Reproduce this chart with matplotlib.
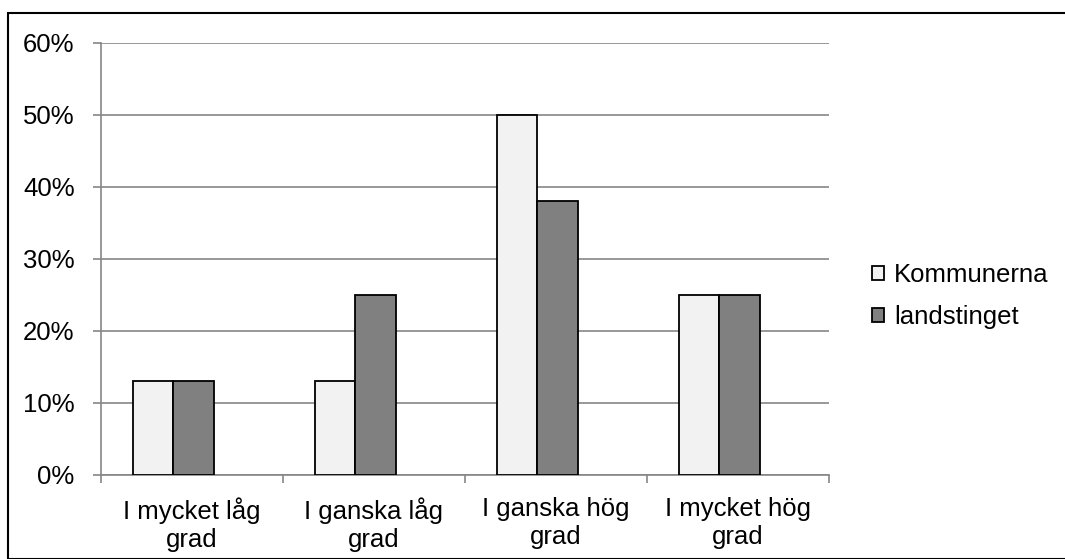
import matplotlib.pyplot as plt
import numpy as np
from matplotlib.patches import Rectangle

plt.rcParams['font.family'] = ['Liberation Sans', 'DejaVu Sans']

categories = ['I mycket låg\ngrad', 'I ganska låg\ngrad', 'I ganska hög\ngrad', 'I mycket hög\ngrad']
kommunerna = [13, 13, 50, 25]
landstinget = [13, 25, 38, 25]
yticks = [0, 10, 20, 30, 40, 50, 60]

fs = 18.5

fig = plt.figure(figsize=(10.65, 5.59), dpi=100)
ax = fig.add_axes([101 / 1065, 1 - 475 / 559, 728 / 1065, 432 / 559])

x = np.arange(len(categories))
w = 0.2225
shift = -0.104  # bars sit slightly left of the category centre
ax.bar(x + shift - w / 2, kommunerna, w, color='#f2f2f2', edgecolor='black', linewidth=1.3,
       label='Kommunerna', zorder=3)
ax.bar(x + shift + w / 2, landstinget, w, color='#808080', edgecolor='black', linewidth=1.3,
       label='landstinget', zorder=3)

ax.set_xlim(-0.5, 3.5)
ax.set_ylim(0, 60)
ax.set_yticks(yticks)
ax.set_yticklabels([f'{t}%' for t in yticks], fontsize=fs)
ax.yaxis.grid(True, color='#868686', linewidth=1.2, zorder=0)

# category labels centred, tick marks at the boundaries
ax.set_xticks(x)
ax.set_xticklabels(categories, fontsize=fs, linespacing=1.2)
ax.tick_params(axis='x', length=0, pad=16)
ax.set_xticks(np.arange(-0.5, 4, 1), minor=True)
ax.tick_params(axis='x', which='minor', length=6, color='#868686', width=1.2, direction='out')
ax.tick_params(axis='y', length=6, color='#868686', width=1.2, pad=13)

for s in ['top', 'right']:
    ax.spines[s].set_visible(False)
for s in ['left', 'bottom']:
    ax.spines[s].set_color('#868686')
    ax.spines[s].set_linewidth(1.2)

fig.legend(loc='center left', bbox_to_anchor=(872 / 1065, 1 - 296 / 559), frameon=False,
           fontsize=fs, handlelength=0.45, handleheight=0.45, handletextpad=0.4,
           labelspacing=0.7, borderaxespad=0, borderpad=0)

fig.patches.append(Rectangle((8 / 1065, 0), 1, 1 - 13 / 559, transform=fig.transFigure,
                             fill=False, edgecolor='black', linewidth=1.5))

fig.savefig('out.png', dpi=100)
